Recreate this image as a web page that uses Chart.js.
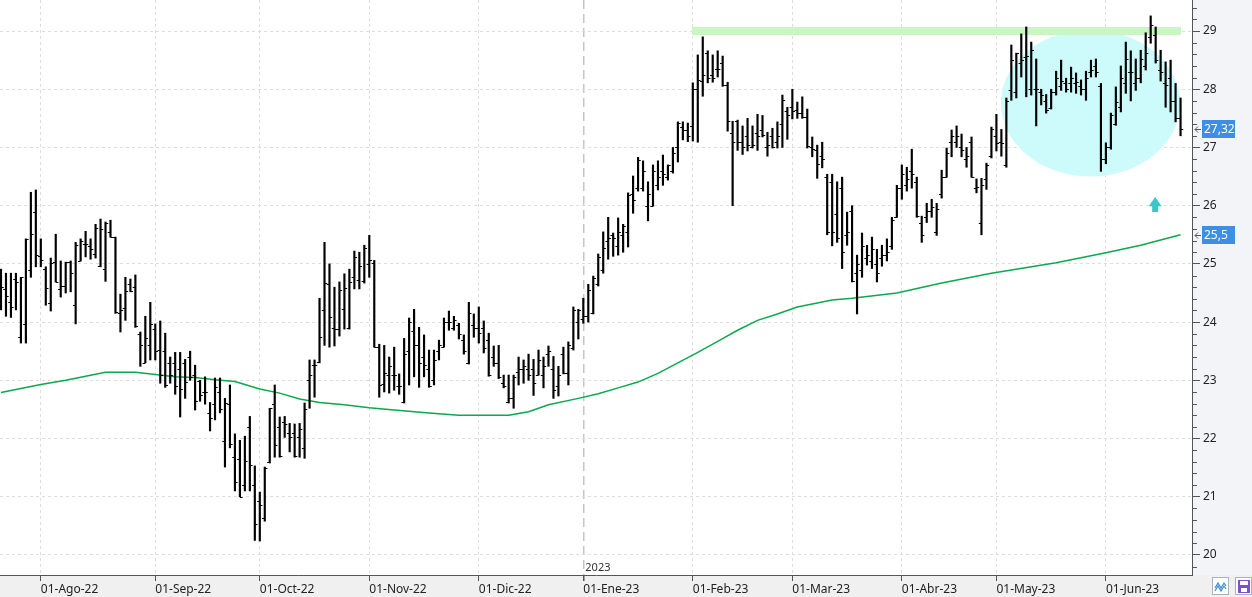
<!DOCTYPE html>
<html><head><meta charset="utf-8">
<script src="https://cdn.jsdelivr.net/npm/chart.js@4.4.0/dist/chart.umd.min.js"></script>
<style>html,body{margin:0;padding:0;background:#fff;overflow:hidden}canvas{display:block}</style>
</head><body>
<canvas id="c" width="1252" height="597"></canvas>
<script>
// ---- data (bar index = trading day from 20-Jul-22) ----
const openP = [24.45,24.57,24.34,24.74,23.74,23.97,24.89,25.89,25.13,24.91,
24.33,25.03,24.57,24.62,25.03,24.29,25.05,25.35,25.30,25.17,
24.96,24.91,25.55,25.46,24.15,24.24,24.65,24.60,23.79,23.30,
23.60,23.88,23.52,23.50,23.30,23.30,23.20,23.30,23.40,23.10,
22.98,22.80,22.44,22.60,22.80,21.95,22.60,21.68,21.65,21.20,
22.20,21.20,20.92,20.63,21.60,22.60,22.20,22.28,22.10,22.10,
22.03,21.83,23.00,23.26,23.31,24.20,24.65,23.90,23.88,24.22,
23.90,24.77,24.72,24.70,25.00,25.02,23.58,22.94,23.10,23.10,
22.90,22.62,23.50,23.85,23.60,23.40,23.20,23.00,23.50,23.57,
24.00,23.90,23.95,23.70,23.30,23.95,23.90,23.90,23.70,23.40,
23.30,22.95,22.62,22.70,23.15,23.20,23.20,23.20,23.10,23.10,
23.45,23.20,22.90,23.45,23.12,23.56,24.00,24.05,24.10,24.15,
24.65,24.90,25.40,25.50,25.30,25.50,25.55,26.20,26.30,26.30,
26.00,26.00,26.35,26.60,26.50,26.60,27.00,27.35,27.30,27.37,
28.00,28.15,28.63,28.25,28.35,28.45,28.07,27.25,27.45,27.10,
27.20,27.00,27.25,27.30,27.00,27.20,27.10,27.40,27.62,27.70,
27.65,27.60,27.52,27.00,26.95,26.85,26.50,26.40,25.85,26.30,
25.50,25.90,24.85,24.90,25.10,25.05,25.00,25.10,25.15,25.30,
25.81,26.30,26.35,26.60,26.40,25.70,25.80,25.90,25.55,26.20,
26.50,27.10,27.10,27.00,26.80,27.10,26.30,25.70,26.45,26.85,
27.20,27.10,26.70,27.98,27.95,28.45,28.55,28.00,28.00,27.95,
27.80,27.68,27.95,28.05,28.10,28.10,28.10,28.05,28.00,28.30,
28.40,28.05,26.80,27.00,27.40,27.70,28.10,28.30,28.10,28.20,
28.40,28.90,28.93,28.33,28.10,28.20,27.80,27.50];
const highP = [24.91,24.84,24.84,24.84,24.77,25.43,26.23,26.27,25.43,24.95,
25.10,25.51,25.05,25.03,25.05,25.37,25.43,25.56,25.43,25.68,
25.77,25.72,25.75,25.46,24.48,24.77,24.74,24.81,23.83,24.10,
24.34,23.97,24.02,23.81,23.40,23.48,23.48,23.36,23.50,23.26,
23.00,23.06,22.62,23.04,23.04,22.69,22.92,22.08,21.97,22.04,
22.38,21.53,21.08,21.51,22.52,22.92,22.37,22.38,22.26,22.25,
22.26,22.61,23.35,23.35,24.41,25.37,25.00,24.60,24.69,24.83,
24.91,25.22,25.20,25.32,25.49,25.06,23.62,23.60,23.40,23.57,
23.11,23.72,24.07,24.22,23.91,23.78,23.52,23.52,23.69,24.07,
24.19,24.10,23.98,23.78,24.34,24.14,24.26,24.02,23.81,23.59,
23.60,23.09,23.09,23.09,23.40,23.35,23.45,23.36,23.52,23.40,
23.59,23.41,23.24,23.57,23.66,24.26,24.22,24.41,24.65,24.79,
25.17,25.55,25.80,25.53,25.79,25.68,26.22,26.51,26.83,26.77,
26.41,26.70,26.77,26.87,26.70,27.00,27.44,27.44,27.42,28.11,
28.59,28.90,28.66,28.59,28.66,28.57,28.12,27.45,27.47,27.37,
27.50,27.37,27.57,27.55,27.26,27.33,27.44,27.90,27.69,28.00,
27.78,27.87,27.66,27.18,27.04,27.09,26.54,26.54,26.41,26.49,
25.89,26.00,25.15,25.53,25.32,25.46,25.25,25.32,25.43,25.80,
26.35,26.70,26.66,26.97,26.49,25.82,26.04,26.11,26.04,26.61,
26.99,27.30,27.37,27.23,27.00,27.18,26.46,26.47,26.73,27.35,
27.57,27.31,27.85,28.76,28.62,28.95,29.07,28.81,28.52,28.00,
27.91,28.00,28.31,28.50,28.19,28.38,28.28,28.16,28.31,28.50,
28.52,28.10,27.08,27.59,28.04,28.40,28.81,28.66,28.52,28.67,
28.97,29.26,29.07,28.67,28.47,28.50,28.10,27.85];
const lowP = [24.21,24.10,24.08,24.21,23.64,23.64,24.77,24.95,24.95,24.29,
24.19,24.69,24.43,24.50,24.52,23.97,25.05,25.12,25.08,25.10,
24.95,24.70,25.46,24.15,23.83,24.03,24.52,23.91,23.24,23.30,
23.35,23.35,22.95,22.88,22.95,22.76,22.37,22.69,23.00,22.49,
22.64,22.59,22.13,22.32,22.44,21.51,21.84,21.10,21.00,21.10,
21.10,20.25,20.24,20.58,21.58,21.68,21.68,22.02,21.77,21.68,
21.68,21.66,22.52,22.71,23.30,23.60,23.57,23.59,23.76,23.88,
23.88,24.57,24.57,24.67,24.77,23.57,22.71,22.80,22.78,22.83,
22.76,22.61,22.92,23.06,22.88,23.06,22.88,22.92,23.35,23.57,
23.86,23.86,23.71,23.45,23.28,23.74,23.64,23.47,23.07,23.24,
23.03,22.87,22.61,22.52,22.92,22.95,23.00,22.74,23.09,22.87,
23.24,22.69,22.73,23.11,22.92,23.52,23.71,23.98,24.00,24.14,
24.62,24.84,25.08,25.13,25.15,25.20,25.29,25.87,26.25,26.25,
25.74,25.99,26.27,26.35,26.44,26.56,26.75,27.13,27.10,27.11,
27.09,27.88,28.11,28.12,28.21,28.05,27.28,26.00,26.95,26.88,
26.94,26.99,26.95,27.18,26.85,26.99,26.99,27.00,27.14,27.49,
27.50,27.50,26.99,26.84,26.47,26.65,25.50,25.31,25.37,24.92,
25.32,24.69,24.14,24.77,24.98,24.92,24.69,24.96,25.05,25.25,
25.80,26.11,26.25,26.30,25.80,25.37,25.71,25.80,25.49,26.13,
26.49,26.84,27.00,26.84,26.66,26.49,26.22,25.50,26.28,26.82,
26.94,26.85,26.66,27.81,27.85,28.21,27.87,27.90,27.37,27.73,
27.59,27.66,27.90,27.98,27.95,27.95,27.93,27.90,27.81,28.21,
28.21,26.59,26.72,26.97,27.38,27.61,27.93,27.80,27.98,28.11,
28.33,28.79,28.45,28.14,27.69,27.61,27.44,27.20];
const closeP = [24.60,24.45,24.26,24.69,24.77,25.43,25.51,25.15,25.07,24.58,
25.01,24.69,24.62,25.03,24.84,25.32,25.39,25.34,25.25,25.62,
25.60,25.70,25.46,24.17,24.21,24.53,24.53,23.93,23.60,23.73,
23.97,23.50,23.10,22.92,23.09,22.90,22.85,22.97,23.05,22.64,
22.75,22.80,22.35,22.88,22.50,22.61,21.90,21.25,21.00,21.61,
21.54,20.53,20.86,21.49,22.52,21.89,21.70,22.25,22.03,21.70,
22.16,22.50,23.10,23.26,23.74,24.67,24.09,23.88,24.55,24.58,
24.69,25.12,24.97,25.28,25.07,23.57,22.92,23.12,23.25,23.09,
22.90,23.46,24.00,23.60,23.30,23.26,22.90,23.35,23.60,24.00,
24.00,24.03,23.80,23.50,24.15,23.90,23.82,23.56,23.10,23.30,
23.06,22.90,22.70,23.05,23.20,23.25,23.10,22.96,23.35,23.25,
23.50,22.83,23.10,23.12,23.60,24.20,24.20,24.10,24.55,24.75,
25.12,25.28,25.45,25.45,25.55,25.65,26.18,26.10,26.78,26.60,
26.20,26.60,26.50,26.55,26.70,26.90,27.42,27.30,27.20,28.00,
28.16,28.25,28.19,28.20,28.35,28.07,27.46,27.10,27.10,27.00,
27.05,27.05,27.20,27.22,27.05,27.00,27.20,27.82,27.55,27.62,
27.60,27.52,27.02,26.98,26.72,26.80,25.55,25.55,25.45,25.20,
25.55,24.70,25.00,25.30,25.15,25.25,24.85,25.15,25.20,25.75,
26.30,26.55,26.45,26.55,25.82,25.50,25.90,25.97,25.95,26.50,
26.90,27.20,27.20,26.95,26.85,26.50,26.32,26.35,26.70,27.32,
27.07,27.07,27.80,28.50,28.62,28.50,28.57,28.67,28.00,27.90,
27.65,27.95,28.20,28.15,28.00,28.20,28.12,28.00,28.20,28.33,
28.30,26.80,27.00,27.55,27.78,28.20,28.52,28.30,28.20,28.52,
28.62,29.10,28.50,28.30,28.07,27.80,27.50,27.32];

// moving average read at a set of bar indices
const maIdx = [0,8,13,21,27,31,35,39,43,47,52,56,60,64,69,74,79,86,92,102,106,110,116,120,124,128,132,136,140,144,148,152,156,160,167,171,180,189,199,212,222,229,237];
const maVal = [22.79,22.93,23.00,23.14,23.14,23.10,23.06,23.05,23.01,22.98,22.85,22.78,22.68,22.62,22.58,22.53,22.49,22.44,22.40,22.40,22.46,22.58,22.69,22.77,22.87,22.97,23.12,23.30,23.48,23.67,23.86,24.03,24.14,24.26,24.38,24.41,24.50,24.67,24.84,25.02,25.19,25.32,25.50];

// axis ticks
const monthIdx = [8,31,52,74,96,117,139,159,181,200,222];
const monthLabels = ['01-Ago-22','01-Sep-22','01-Oct-22','01-Nov-22','01-Dic-22','01-Ene-23','01-Feb-23','01-Mar-23','01-Abr-23','01-May-23','01-Jun-23'];
const yearIdx = 117, yearLabel = '2023';
const yTicks = [20,21,22,23,24,25,26,27,28,29];

// annotations
const resistance = {from:138.8, to:237.1, value:29.0};
const ellipse = {from:200.9, to:236.9, top:29.02, bottom:26.50};
const arrow = {idx:231.9, tip:26.15, base:25.89};

const FONT = "'Noto Sans', 'DejaVu Sans', sans-serif";
Chart.defaults.font.family = FONT;
Chart.defaults.font.size = 12;

const bgPlugin = {
  id:'bg',
  beforeDraw(chart){
    const {ctx, chartArea:a, width, height} = chart;
    ctx.save();
    ctx.fillStyle='#ffffff'; ctx.fillRect(0,0,width,height);
    ctx.fillStyle='#f3f4f7'; ctx.fillRect(a.right,0,width-a.right,a.bottom);
    ctx.fillStyle='#f0f0f0'; ctx.fillRect(0,a.bottom,width,height-a.bottom);
    ctx.restore();
  },
  beforeDatasetsDraw(chart){
    const {ctx, chartArea:a, scales:{x,y}} = chart;
    const x1=x.getPixelForValue(ellipse.from), x2=x.getPixelForValue(ellipse.to);
    const y1=y.getPixelForValue(ellipse.top), y2=y.getPixelForValue(ellipse.bottom);
    ctx.save();
    ctx.beginPath(); ctx.rect(a.left,a.top,a.width,a.height); ctx.clip();
    ctx.fillStyle='#cdfbfc';
    ctx.beginPath(); ctx.ellipse((x1+x2)/2,(y1+y2)/2,(x2-x1)/2,(y2-y1)/2,0,0,Math.PI*2); ctx.fill();
    ctx.restore();
  },
  afterDatasetsDraw(chart){
    const {ctx, chartArea:a, scales:{x,y}} = chart;
    ctx.save();
    ctx.beginPath(); ctx.rect(a.left,a.top,a.width,a.height); ctx.clip();
    // open / close ticks
    ctx.strokeStyle='#000'; ctx.lineWidth=1;
    ctx.beginPath();
    for(let i=0;i<openP.length;i++){
      const px=x.getPixelForValue(i);
      const po=Math.round(y.getPixelForValue(openP[i]))+0.5;
      const pc=Math.round(y.getPixelForValue(closeP[i]))+0.5;
      ctx.moveTo(px-2.7,po); ctx.lineTo(px,po);
      ctx.moveTo(px,pc); ctx.lineTo(px+2.7,pc);
    }
    ctx.stroke();
    // up arrow
    const ax=x.getPixelForValue(arrow.idx), tip=y.getPixelForValue(arrow.tip), base=y.getPixelForValue(arrow.base);
    const hh=(base-tip)*0.62;
    ctx.fillStyle='#3cc6c8';
    ctx.beginPath();
    ctx.moveTo(ax,tip); ctx.lineTo(ax+6.5,tip+hh); ctx.lineTo(ax+3,tip+hh); ctx.lineTo(ax+3,base);
    ctx.lineTo(ax-3,base); ctx.lineTo(ax-3,tip+hh); ctx.lineTo(ax-6.5,tip+hh); ctx.closePath(); ctx.fill();
    // year label
    ctx.fillStyle='#333'; ctx.font='11px '+FONT; ctx.textBaseline='alphabetic'; ctx.textAlign='left';
    ctx.fillText(yearLabel, x.getPixelForValue(yearIdx)+2, a.bottom-4);
    ctx.restore();
  },
  afterDraw(chart){
    const {ctx, chartArea:a, scales:{y}, width, height} = chart;
    ctx.save();
    // minor ticks on the price axis
    ctx.strokeStyle='#555'; ctx.lineWidth=1; ctx.beginPath();
    for(let k=99;k<=147;k++){
      if(k%5===0) continue;
      const py=Math.round(y.getPixelForValue(k*0.2))+0.5;
      ctx.moveTo(a.right,py); ctx.lineTo(a.right+5,py);
    }
    ctx.stroke();
    // price tags
    const tag=(v)=>{
      const py=y.getPixelForValue(v);
      const txt=String(v).replace('.',',');
      ctx.fillStyle='#3d8fe6'; ctx.fillRect(a.right+10,Math.round(py)-9,33,18);
      ctx.fillStyle='#fff'; ctx.font='12px '+FONT; ctx.textBaseline='middle'; ctx.textAlign='left';
      ctx.fillText(txt,a.right+12,py+1);
      ctx.strokeStyle='#555'; ctx.lineWidth=1; ctx.beginPath();
      const yy=Math.round(py)+0.5;
      ctx.moveTo(a.right+3,yy); ctx.lineTo(a.right+9,yy);
      ctx.moveTo(a.right+6,yy-3); ctx.lineTo(a.right+3,yy); ctx.lineTo(a.right+6,yy+3);
      ctx.stroke();
    };
    tag(closeP[closeP.length-1]);
    tag(maVal[maVal.length-1]);
    // small toolbar icons bottom-right
    ctx.fillStyle='#fff'; ctx.fillRect(1212.5,577.5,16,17);
    ctx.strokeStyle='#a9b4c2'; ctx.strokeRect(1212.5,577.5,16,17);
    ctx.strokeStyle='#3b8fd4'; ctx.lineWidth=1.2; ctx.beginPath();
    ctx.moveTo(1215,588); ctx.lineTo(1218,583); ctx.lineTo(1221,588); ctx.lineTo(1224,583); ctx.lineTo(1226,586);
    ctx.moveTo(1215,591); ctx.lineTo(1218,586); ctx.lineTo(1221,591); ctx.lineTo(1224,586); ctx.lineTo(1226,589);
    ctx.stroke();
    ctx.fillStyle='#fff'; ctx.fillRect(1235.5,577.5,16,17);
    ctx.strokeStyle='#a9b4c2'; ctx.lineWidth=1; ctx.strokeRect(1235.5,577.5,16,17);
    ctx.fillStyle='#7b50c8'; ctx.fillRect(1238,580,12,13);
    ctx.fillStyle='#fff'; ctx.fillRect(1240,581,8,4); ctx.fillRect(1241,588,6,4);
    ctx.restore();
  }
};

new Chart(document.getElementById('c'), {
  type:'bar',
  data:{
    datasets:[
      { type:'line', label:'resistance', data:[{x:resistance.from,y:resistance.value},{x:resistance.to,y:resistance.value}],
        borderColor:'#c9f6c3', borderWidth:8, pointRadius:0, borderCapStyle:'butt', order:10 },
      { type:'line', label:'MA', data:maIdx.map((v,i)=>({x:v,y:maVal[i]})),
        borderColor:'#0ca84e', borderWidth:1.5, pointRadius:0, tension:0, order:5 },
      { type:'bar', label:'OHLC', data:highP.map((h,i)=>({x:i,y:[lowP[i],h]})),
        backgroundColor:'#000', borderWidth:0, barThickness:1.5, order:1 }
    ]
  },
  options:{
    responsive:false, animation:false, devicePixelRatio:1, events:[],
    layout:{padding:0},
    plugins:{legend:{display:false}, tooltip:{enabled:false}},
    scales:{
      x:{
        type:'linear', min:-0.2, max:239.3, offset:false,
        afterBuildTicks:s=>{ s.ticks = monthIdx.map(v=>({value:v})); },
        afterFit:s=>{ s.height=22; s.paddingLeft=0; s.paddingRight=0; },
        ticks:{ autoSkip:false, maxRotation:0, minRotation:0, align:'start', padding:1, color:'#222',
          font:{size:12}, callback:(v)=>{ const k=monthIdx.indexOf(v); return k>=0?monthLabels[k]:''; } },
        grid:{ offset:false, drawTicks:true, tickLength:6, tickColor:'#555',
          color:c=>(c.tick && c.tick.value===yearIdx)?'#c6c6c6':'#dddddd',
          lineWidth:c=>(c.tick && c.tick.value===yearIdx)?1.5:1 },
        border:{ color:'#555', width:1, dash:c=>(c.tick && c.tick.value===yearIdx)?[9,5]:[3,3] }
      },
      y:{
        type:'linear', position:'right', min:19.656, max:29.533,
        afterBuildTicks:s=>{ s.ticks = yTicks.map(v=>({value:v})); },
        afterFit:s=>{ s.width=60; s.paddingTop=0; s.paddingBottom=0; },
        ticks:{ padding:3, color:'#222', font:{size:12}, callback:v=>String(v) },
        grid:{ color:'#dddddd', tickLength:8, tickColor:'#555' },
        border:{ color:'#555', width:1, dash:[3,3] }
      }
    }
  },
  plugins:[bgPlugin]
});
</script>
</body></html>
